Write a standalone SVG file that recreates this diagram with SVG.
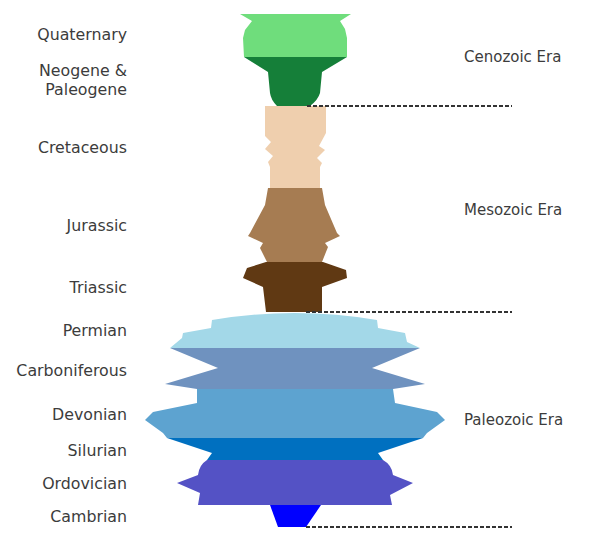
<svg xmlns="http://www.w3.org/2000/svg" width="600" height="547" viewBox="0 0 600 547">
<style>
.lbl{font-family:"DejaVu Sans","Liberation Sans",sans-serif;font-size:15.8px;fill:#3c3c3c}
.era{font-size:15px}
.per{text-anchor:end}
.dash{stroke:#333;stroke-width:1.8;stroke-dasharray:4 2;fill:none}
</style>
<rect width="600" height="547" fill="#fff"/>
<g id="quaternary"><path d="M240,14 L351,14 L340,21 L345,29 L347,38 L347,57 L244,57 L243,38 L245,30 L252,21 Z" fill="#6fdd7c"/><text class="lbl per" x="127" y="40">Quaternary</text></g>
<g id="neogene"><path d="M244,57 L347,57 L322,72 L320,93 Q318,100 310,106 L277,106 Q271,100 270,93 L268,72 Z" fill="#157f39"/><text class="lbl per" x="127" y="76">Neogene &amp;</text><text class="lbl per" x="127" y="95">Paleogene</text></g>
<g id="cretaceous"><path d="M265,106 L326,106 L326,133 L319,146 L325,150 L317,158 L322,163 L320,167 L320,188 L270,188 L270,167 L268,162 L273,156 L265,149 L271,142 L265,136 Z" fill="#efcfae"/><text class="lbl per" x="127" y="153">Cretaceous</text></g>
<g id="jurassic"><path d="M268,188 L322,188 L325,205 L337,233 L340,236 L325,243 L328,247 L322,262 L267,262 L260,248 L263,243 L248,236 L250,233 L265,205 Z" fill="#a67c52"/><text class="lbl per" x="127" y="231">Jurassic</text></g>
<g id="triassic"><path d="M266,262 L323,262 L346,270 L347,278 L322,287 L322,312 L266,312 L263,287 L243,278 L247,268 Z" fill="#603913"/><text class="lbl per" x="127" y="293">Triassic</text></g>
<g id="permian"><path d="M212,320 Q295,306 377,320 L378,328 L405,333 L407,342 L420,348 L170,348 L182,338 L183,333 L211,328 Z" fill="#a3d8e8"/><text class="lbl per" x="127" y="336">Permian</text></g>
<g id="carboniferous"><path d="M170,348 L420,348 L372,368 L425,384 L393,389 L197,389 L165,384 L218,368 Z" fill="#6f92bf"/><text class="lbl per" x="127" y="376">Carboniferous</text></g>
<g id="devonian"><path d="M197,389 L393,389 L395,403 L437,412 L445,420 L427,433 L423,438 L167,438 L163,433 L145,420 L153,412 L197,403 Z" fill="#5da3d0"/><text class="lbl per" x="127" y="420">Devonian</text></g>
<g id="silurian"><path d="M167,438 L423,438 L378,453 L383,460 L207,460 L212,453 Z" fill="#0070c0"/><text class="lbl per" x="127" y="456">Silurian</text></g>
<g id="ordovician"><path d="M207,460 Q199,465 198,475 L177,483 L200,493 L198,505 L392,505 L390,495 L413,483 L393,475 Q392,465 383,460 Z" fill="#5452c5"/><text class="lbl per" x="127" y="489">Ordovician</text></g>
<g id="cambrian"><path d="M270,505 L321,505 L306,527 L278,527 Z" fill="#0000ff"/><text class="lbl per" x="127" y="522">Cambrian</text></g>
<g id="eras">
<text class="lbl era" x="464" y="62">Cenozoic Era</text>
<text class="lbl era" x="464" y="215">Mesozoic Era</text>
<text class="lbl era" x="464" y="425">Paleozoic Era</text>
</g>
<g id="connectors">
<line class="dash" x1="307" y1="106" x2="512" y2="106"/>
<line class="dash" x1="306" y1="312" x2="512" y2="312"/>
<line class="dash" x1="306" y1="527" x2="512" y2="527"/>
</g>
</svg>
